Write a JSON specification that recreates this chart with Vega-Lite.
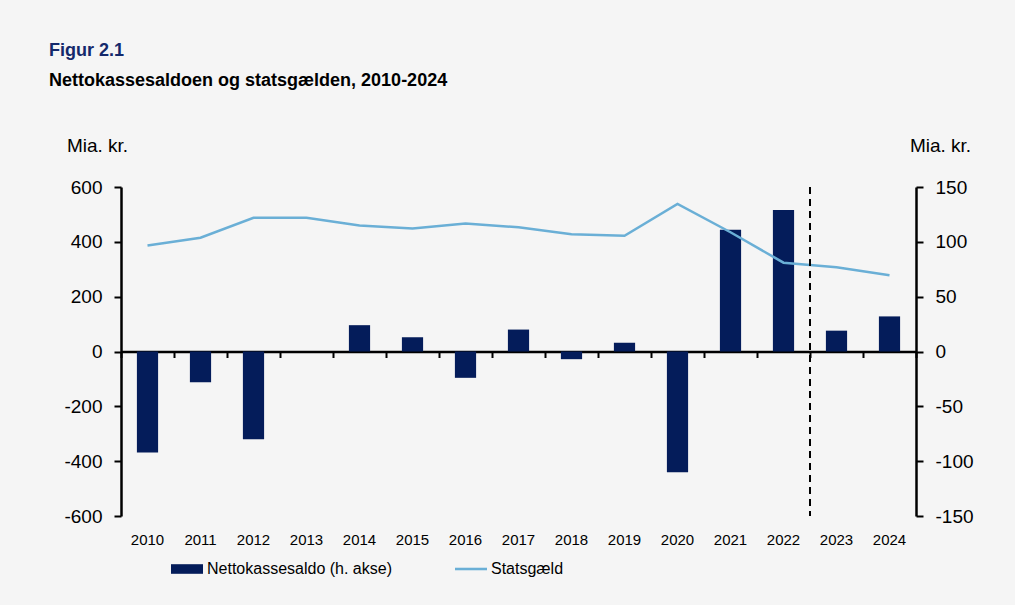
{
  "$schema": "https://vega.github.io/schema/vega-lite/v6.json",
  "width": 795,
  "height": 329,
  "autosize": {"type": "none"},
  "padding": {"left": 121, "top": 187, "right": 99, "bottom": 89},
  "background": "#f5f5f5",
  "title": {
    "text": "Figur 2.1",
    "subtitle": "Nettokassesaldoen og statsgælden, 2010-2024",
    "anchor": "start",
    "frame": "group",
    "dx": -72,
    "offset": 46,
    "font": "Liberation Sans",
    "fontSize": 18,
    "fontWeight": "bold",
    "color": "#14296b",
    "subtitleFont": "Liberation Sans",
    "subtitleFontSize": 18,
    "subtitleFontWeight": "bold",
    "subtitleColor": "#000000",
    "subtitlePadding": 12
  },
  "config": {
    "view": {"stroke": null},
    "axis": {"grid": false, "labelColor": "#000000", "domainColor": "#000000", "tickColor": "#000000"}
  },
  "datasets": {
    "main": [
      {"year": "2010", "saldo": -92, "gaeld": 387},
      {"year": "2011", "saldo": -28, "gaeld": 415},
      {"year": "2012", "saldo": -80, "gaeld": 488},
      {"year": "2013", "saldo": 0, "gaeld": 488},
      {"year": "2014", "saldo": 24, "gaeld": 460},
      {"year": "2015", "saldo": 13, "gaeld": 449},
      {"year": "2016", "saldo": -24, "gaeld": 467},
      {"year": "2017", "saldo": 20, "gaeld": 453},
      {"year": "2018", "saldo": -7, "gaeld": 428},
      {"year": "2019", "saldo": 8, "gaeld": 422},
      {"year": "2020", "saldo": -110, "gaeld": 538},
      {"year": "2021", "saldo": 111, "gaeld": 435},
      {"year": "2022", "saldo": 129, "gaeld": 324},
      {"year": "2023", "saldo": 19, "gaeld": 307},
      {"year": "2024", "saldo": 32, "gaeld": 278}
    ],
    "forecast": [{"year": "2023"}]
  },
  "layer": [
    {
      "data": {"name": "main"},
      "mark": {"type": "bar", "width": {"band": 0.4}},
      "encoding": {
        "x": {
          "field": "year", "type": "ordinal",
          "scale": {"type": "band", "paddingInner": 0, "paddingOuter": 0},
          "axis": {
            "orient": "bottom", "title": null, "domain": false, "ticks": false,
            "labelAngle": 0, "labelPadding": 16,
            "labelFont": "Liberation Sans", "labelFontSize": 15
          }
        },
        "y": {
          "field": "saldo", "type": "quantitative",
          "scale": {"domain": [-150, 150], "nice": false},
          "axis": {
            "orient": "right", "values": [-150, -100, -50, 0, 50, 100, 150],
            "labelExpr": "replace(datum.label, '−', '-')",
            "title": "Mia. kr.", "titleAngle": 0, "titleX": 24, "titleY": -42,
            "titleAlign": "center", "titleBaseline": "middle",
            "titleFont": "Liberation Sans", "titleFontSize": 19, "titleFontWeight": "normal", "titleColor": "#000000",
            "labelFont": "Liberation Sans", "labelFontSize": 19, "labelPadding": 12,
            "domainWidth": 2.5, "tickWidth": 2, "tickSize": 7
          }
        },
        "color": {
          "datum": "Nettokassesaldo (h. akse)",
          "type": "nominal",
          "scale": {"domain": ["Nettokassesaldo (h. akse)", "Statsgæld"], "range": ["#041c5a", "#6aafd6"]},
          "legend": {
            "title": null, "orient": "none", "direction": "horizontal",
            "legendX": 50, "legendY": 366,
            "symbolSize": 1024, "labelOffset": 4, "columnPadding": 63, "labelLimit": 400,
            "labelFont": "Liberation Sans", "labelFontSize": 16, "labelColor": "#000000",
            "encode": {
              "symbols": {
                "update": {
                  "shape": {"signal": "datum.value === 'Statsgæld' ? 'M-1,-0.08H1V0.08H-1Z' : 'M-1,-0.3H1V0.3H-1Z'"},
                  "fill": {"signal": "scale('color', datum.value)"},
                  "stroke": {"value": "transparent"},
                  "strokeWidth": {"value": 0},
                  "opacity": {"value": 1}
                }
              }
            }
          }
        }
      }
    },
    {
      "data": {"name": "main"},
      "mark": {"type": "line", "strokeWidth": 2.5},
      "encoding": {
        "x": {
          "field": "year", "type": "ordinal",
          "axis": {
            "orient": "bottom", "title": null, "labels": false,
            "offset": -164.5, "tickBand": "extent",
            "domainWidth": 2.5, "tickWidth": 2, "tickSize": 6
          }
        },
        "y": {
          "field": "gaeld", "type": "quantitative",
          "scale": {"domain": [-600, 600], "nice": false},
          "axis": {
            "orient": "left", "values": [-600, -400, -200, 0, 200, 400, 600],
            "labelExpr": "replace(datum.label, '−', '-')",
            "title": "Mia. kr.", "titleAngle": 0, "titleX": -24, "titleY": -42,
            "titleAlign": "center", "titleBaseline": "middle",
            "titleFont": "Liberation Sans", "titleFontSize": 19, "titleFontWeight": "normal", "titleColor": "#000000",
            "labelFont": "Liberation Sans", "labelFontSize": 19, "labelPadding": 12,
            "domainWidth": 2.5, "tickWidth": 2, "tickSize": 7
          }
        },
        "color": {"datum": "Statsgæld", "type": "nominal"}
      }
    },
    {
      "data": {"name": "forecast"},
      "mark": {"type": "rule", "strokeDash": [7, 5], "strokeWidth": 2, "color": "#000000"},
      "encoding": {
        "x": {"field": "year", "type": "ordinal", "bandPosition": 0, "axis": null}
      }
    }
  ],
  "resolve": {"scale": {"y": "independent"}, "axis": {"x": "independent"}}
}
